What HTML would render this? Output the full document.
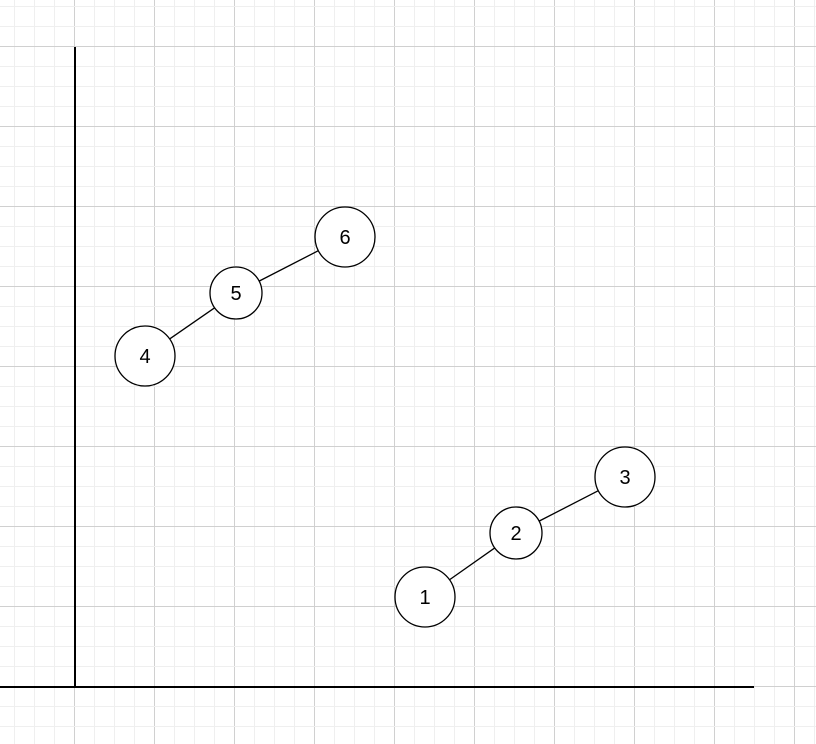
<!DOCTYPE html>
<html><head><meta charset="utf-8"><style>
html,body{margin:0;padding:0;background:#fff;}
svg{display:block;}
</style></head><body>
<svg id="chart" width="816" height="744" xmlns="http://www.w3.org/2000/svg">
<g id="grid"></g>
<line x1="75" y1="47" x2="75" y2="687" stroke="#000" stroke-width="2"/>
<line x1="0" y1="687" x2="754" y2="687" stroke="#000" stroke-width="2"/>
<g id="edges"></g>
<g id="nodes"></g>
</svg>
<script>
const labels = ["1","2","3","4","5","6"];
const xVals = [17.5, 22.05, 27.5, 3.5, 8.05, 13.5];
const yVals = [4.5, 7.7, 10.5, 16.55, 19.7, 22.5];
const sizes = [30, 26, 30, 30, 26, 30];
const links = [[0,1],[1,2],[3,4],[4,5]];

const NS = "http://www.w3.org/2000/svg";
const X0 = 75, Y0 = 687, U = 20;
const sx = v => X0 + v * U;
const sy = v => Y0 - v * U;

const grid = document.getElementById('grid');
for (let x = 14; x < 816; x += 20) {
  const major = (x - 74) % 80 === 0;
  const l = document.createElementNS(NS, 'line');
  
  
  l.setAttribute('x1', x + 0.5); l.setAttribute('x2', x + 0.5);
  l.setAttribute('y1', 0); l.setAttribute('y2', 744);
  l.setAttribute('stroke', major ? '#d0d0d0' : '#efefef');
  grid.appendChild(l);
}
for (let y = 6; y < 744; y += 20) {
  const major = (y - 46) % 80 === 0;
  const l = document.createElementNS(NS, 'line');
  
  
  l.setAttribute('y1', y + 0.5); l.setAttribute('y2', y + 0.5);
  l.setAttribute('x1', 0); l.setAttribute('x2', 816);
  l.setAttribute('stroke', major ? '#d0d0d0' : '#efefef');
  grid.appendChild(l);
}

const edges = document.getElementById('edges');
links.forEach(([a, b]) => {
  const x1 = sx(xVals[a]), y1 = sy(yVals[a]), x2 = sx(xVals[b]), y2 = sy(yVals[b]);
  const d = Math.hypot(x2 - x1, y2 - y1);
  const ux = (x2 - x1) / d, uy = (y2 - y1) / d;
  const l = document.createElementNS(NS, 'line');
  
  
  l.setAttribute('x1', x1 + ux * sizes[a]); l.setAttribute('y1', y1 + uy * sizes[a]);
  l.setAttribute('x2', x2 - ux * sizes[b]); l.setAttribute('y2', y2 - uy * sizes[b]);
  l.setAttribute('stroke', '#000'); l.setAttribute('stroke-width', '1.3');
  edges.appendChild(l);
});

const nodes = document.getElementById('nodes');
labels.forEach((t, i) => {
  const g = document.createElementNS(NS, 'g');
  
  
  const c = document.createElementNS(NS, 'circle');
  
  
  c.setAttribute('cx', sx(xVals[i])); c.setAttribute('cy', sy(yVals[i]));
  c.setAttribute('r', sizes[i]);
  c.setAttribute('fill', '#fff'); c.setAttribute('stroke', '#000'); c.setAttribute('stroke-width', '1.3');
  const tx = document.createElementNS(NS, 'text');
  
  
  tx.setAttribute('x', sx(xVals[i])); tx.setAttribute('y', sy(yVals[i]) + 7);
  tx.setAttribute('text-anchor', 'middle');
  tx.setAttribute('font-family', 'Liberation Sans, Arial, sans-serif');
  tx.setAttribute('font-size', '20');
  tx.textContent = t;
  g.appendChild(c); g.appendChild(tx);
  nodes.appendChild(g);
});
</script>
</body></html>
